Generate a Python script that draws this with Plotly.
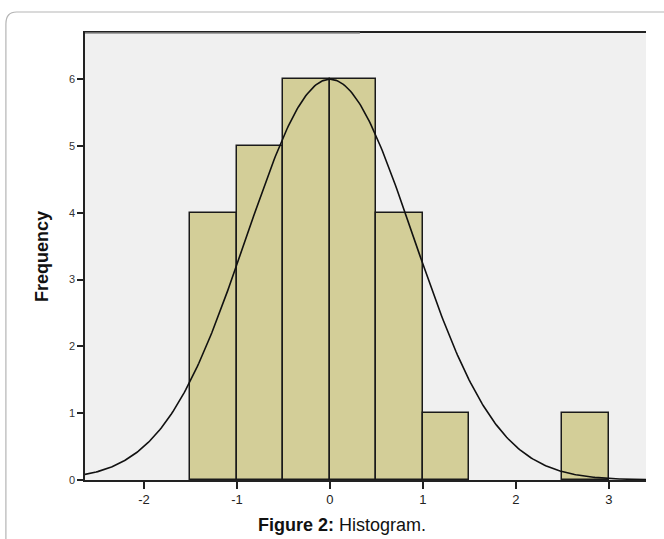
import numpy as np
import plotly.graph_objects as go

# Histogram data (bin left edges, width 0.5)
bin_left = [-1.5, -1.0, -0.5, 0.0, 0.5, 1.0, 2.5]
counts = [4, 5, 6, 6, 4, 1, 1]
bin_width = 0.5

# Normal curve parameters (fitted: mean, sd, N)
mean = 0.0
sd = 0.898
n_obs = 27

x_ticks = [-2, -1, 0, 1, 2, 3]
x_tick_labels = ["-2", "-1", "0", "1", "2", "3"]
y_ticks = [0, 1, 2, 3, 4, 5, 6]

xs = np.linspace(-2.7, 3.5, 400)
ys = n_obs * bin_width / (sd * np.sqrt(2 * np.pi)) * np.exp(-0.5 * ((xs - mean) / sd) ** 2)

fig = go.Figure()
fig.add_trace(go.Bar(
    x=[b + bin_width / 2 for b in bin_left], y=counts, width=bin_width,
    marker=dict(color="#d3ce98", line=dict(color="#1a1a1a", width=1.5)),
    showlegend=False, hoverinfo="skip"))
fig.add_trace(go.Scatter(x=xs, y=ys, mode="lines",
    line=dict(color="#111111", width=1.6), showlegend=False, hoverinfo="skip"))

fig.update_layout(
    width=664, height=539,
    margin=dict(l=85, r=18, t=33, b=59),
    paper_bgcolor="white", plot_bgcolor="#f0f0f0",
    font=dict(family="Liberation Sans, Arial, sans-serif", color="#222222"),
    bargap=0,
    xaxis=dict(range=[-2.634, 3.398], tickvals=x_ticks, ticktext=x_tick_labels,
               ticks="outside", ticklen=7,
               tickwidth=1.5, tickcolor="#222", showline=True, linecolor="#222",
               linewidth=1.5, mirror=True, showgrid=False, zeroline=False,
               tickfont=dict(size=13, color="#222")),
    yaxis=dict(range=[0, 6.69], tickvals=y_ticks, ticks="outside", ticklen=6,
               tickwidth=1.5, tickcolor="#222", showline=True, linecolor="#222",
               linewidth=1.5, showgrid=False, zeroline=False,
               tickfont=dict(size=11, color="#333"),
               title=dict(text="<b>Frequency</b>",
                          font=dict(size=18, color="#111",
                                    family="Liberation Sans Narrow, Arial Narrow, Liberation Sans, sans-serif"),
                          standoff=16)),
    shapes=[dict(type="path", xref="paper", yref="paper",
                 path="M 1.05,1.047 L -0.122,1.047 Q -0.141,1.047 -0.141,1.02 L -0.141,-0.2",
                 line=dict(color="#b5b5b5", width=1.2)),
            dict(type="line", xref="paper", yref="paper", x0=0, x1=0.49, y0=1, y1=1,
                 line=dict(color="#8a8a8a", width=1.5))],
    annotations=[dict(text="<b>Figure 2:</b> Histogram.", xref="paper", yref="paper",
                      x=0.458, y=-0.1007, xanchor="center", yanchor="middle", showarrow=False,
                      font=dict(size=18, color="#111"))],
)

fig.write_html("out.html")
